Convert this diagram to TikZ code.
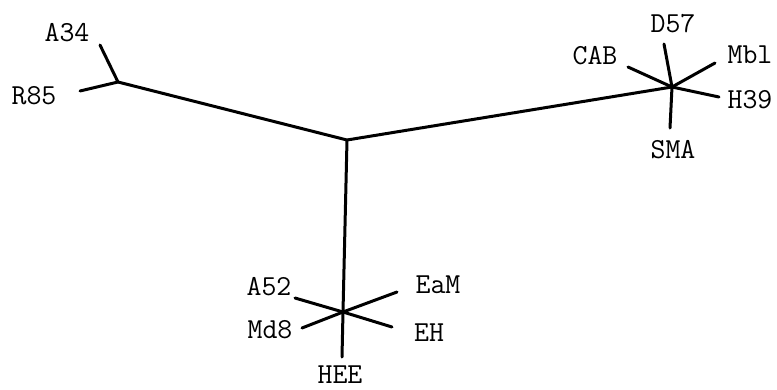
\documentclass[tikz,border=0pt]{standalone}
\begin{document}
\begin{tikzpicture}[x=1pt,y=-1pt,
  edge/.style={line width=3pt,line cap=round},
  lbl/.style={font=\ttfamily\fontsize{29}{29}\selectfont,inner sep=0pt,anchor=center}]
\useasboundingbox (0,0) rectangle (777,389);
% internal points
\coordinate (L) at (118,82);
\coordinate (C) at (347,140);
\coordinate (R) at (672,87);
\coordinate (B) at (343,312);
% leaf ends
\coordinate (eA34) at (100,45);
\coordinate (eR85) at (80,91);
\coordinate (eD57) at (664,44);
\coordinate (eCAB) at (628,67);
\coordinate (eMbl) at (715,63);
\coordinate (eH39) at (719,97);
\coordinate (eSMA) at (670,128);
\coordinate (eA52) at (295,298);
\coordinate (eEaM) at (397,292);
\coordinate (eMd8) at (302,328);
\coordinate (eEH) at (392,327);
\coordinate (eHEE) at (342,357);
% edges
\draw[edge] (L) -- (C) -- (R);
\draw[edge] (C) -- (B);
\draw[edge] (L) -- (eA34);
\draw[edge] (L) -- (eR85);
\foreach \e in {eD57,eCAB,eMbl,eH39,eSMA} \draw[edge] (R) -- (\e);
\foreach \e in {eA52,eEaM,eMd8,eEH,eHEE} \draw[edge] (B) -- (\e);
% labels
\node[lbl] (A34) at (67,33) {A34};
\node[lbl] (R85) at (34,96) {R85};
\node[lbl] (D57) at (673,24) {D57};
\node[lbl] (CAB) at (595,56) {CAB};
\node[lbl] (Mbl) at (750,55) {Mbl};
\node[lbl] (H39) at (750,100) {H39};
\node[lbl] (SMA) at (673,150) {SMA};
\node[lbl] (A52) at (269,287) {A52};
\node[lbl] (Md8) at (270,330) {Md8};
\node[lbl] (EaM) at (438,285) {EaM};
\node[lbl] (EH) at (429,333) {EH};
\node[lbl] (HEE) at (340,375) {HEE};
\end{tikzpicture}
\end{document}
